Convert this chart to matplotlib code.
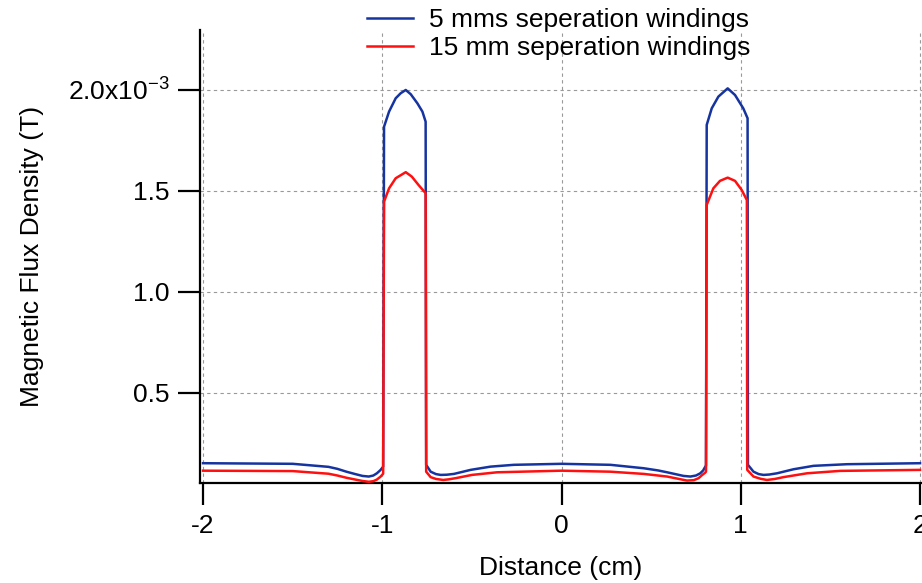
import matplotlib
matplotlib.use("Agg")
import matplotlib.pyplot as plt
from matplotlib.ticker import FixedLocator, FixedFormatter

plt.rcParams['font.family'] = ['Liberation Sans', 'DejaVu Sans']
plt.rcParams['mathtext.fontset'] = 'custom'
plt.rcParams['mathtext.rm'] = 'Liberation Sans'
plt.rcParams['mathtext.it'] = 'Liberation Sans'

# Position along the axis (cm)
x_5mm = [-2.0, -1.5, -1.3, -1.25, -1.2, -1.15, -1.11, -1.075, -1.05, -1.03, -1.01, -0.995,
         -0.99, -0.962, -0.925, -0.897, -0.869, -0.841, -0.804, -0.776, -0.758,
         -0.755, -0.730, -0.700, -0.674, -0.640, -0.600, -0.507, -0.396, -0.266, 0.0,
         0.273, 0.459, 0.540, 0.589, 0.640, 0.681, 0.719, 0.750, 0.774, 0.790, 0.802, 0.806,
         0.810, 0.838, 0.875, 0.927, 0.968, 1.014, 1.038, 1.040,
         1.071, 1.100, 1.127, 1.160, 1.202, 1.294, 1.406, 1.592, 2.0]
# Flux density, 5 mm winding separation (mT)
b_5mm = [0.152, 0.149, 0.134, 0.124, 0.110, 0.098, 0.089, 0.086, 0.091, 0.102, 0.118, 0.135,
         1.818, 1.893, 1.959, 1.984, 2.000, 1.979, 1.934, 1.893, 1.843,
         0.144, 0.110, 0.098, 0.094, 0.095, 0.099, 0.119, 0.135, 0.144, 0.149,
         0.144, 0.127, 0.116, 0.107, 0.097, 0.089, 0.086, 0.091, 0.102, 0.116, 0.135, 0.140,
         1.827, 1.909, 1.967, 2.008, 1.975, 1.909, 1.860, 0.144,
         0.110, 0.098, 0.094, 0.096, 0.102, 0.122, 0.139, 0.147, 0.152]

x_15mm = [-2.0, -1.5, -1.3, -1.25, -1.2, -1.15, -1.11, -1.075, -1.05, -1.03, -1.01, -0.995,
          -0.99, -0.962, -0.925, -0.869, -0.835, -0.798, -0.758,
          -0.755, -0.730, -0.700, -0.660, -0.630, -0.590, -0.500, -0.360, 0.0,
          0.273, 0.459, 0.589, 0.650, 0.700, 0.738, 0.765, 0.785, 0.800, 0.806,
          0.810, 0.847, 0.884, 0.927, 0.968, 1.005, 1.034, 1.036,
          1.071, 1.110, 1.146, 1.190, 1.238, 1.369, 1.554, 2.0]
# Flux density, 15 mm winding separation (mT)
b_15mm = [0.115, 0.113, 0.100, 0.091, 0.080, 0.071, 0.064, 0.060, 0.063, 0.071, 0.085, 0.100,
          1.447, 1.513, 1.563, 1.593, 1.571, 1.530, 1.489,
          0.110, 0.083, 0.074, 0.069, 0.072, 0.078, 0.094, 0.107, 0.115,
          0.110, 0.099, 0.086, 0.075, 0.066, 0.068, 0.078, 0.094, 0.104, 0.110,
          1.431, 1.513, 1.550, 1.566, 1.550, 1.505, 1.455, 0.119,
          0.086, 0.075, 0.069, 0.074, 0.083, 0.102, 0.114, 0.119]

scale = 1e-3
y_ticks = [0.5e-3, 1.0e-3, 1.5e-3, 2.0e-3]
y_tick_labels = ["0.5", "1.0", "1.5", r"2.0x10$^{\mathregular{-3}}$"]
x_ticks = [-2, -1, 0, 1, 2]
x_tick_labels = ["-2", "-1", "0", "1", "2"]

fs = 19

fig = plt.figure(figsize=(9.22, 5.83), dpi=100)
ax = fig.add_axes([200 / 922, 100 / 583, 722 / 922, 453 / 583])

blue = "#1634a0"
red = "#ff1010"
ax.plot(x_5mm, [v * scale for v in b_5mm], color=blue, lw=1.8,
        label="5 mms seperation windings", zorder=3)
ax.plot(x_15mm, [v * scale for v in b_15mm], color=red, lw=1.8,
        label="15 mm seperation windings", zorder=3)

ax.set_xlim(-2.0167, 2.011)
ax.set_ylim(0.054e-3, 2.297e-3)

ax.xaxis.set_major_locator(FixedLocator(x_ticks))
ax.xaxis.set_major_formatter(FixedFormatter(x_tick_labels))
ax.yaxis.set_major_locator(FixedLocator(y_ticks))
ax.yaxis.set_major_formatter(FixedFormatter(y_tick_labels))

ax.grid(True, which="major", color="#999999", linestyle=(0, (3, 3)), lw=0.8)
ax.set_axisbelow(True)

for side in ("top", "right"):
    ax.spines[side].set_visible(False)
for side in ("left", "bottom"):
    ax.spines[side].set_linewidth(1.6)
    ax.spines[side].set_color("black")

ax.tick_params(axis="both", direction="out", length=15.5, width=1.6,
               labelsize=fs, pad=6.5, colors="black")

ax.set_xlabel("Distance (cm)", fontsize=fs, labelpad=13)
ax.set_ylabel("Magnetic Flux Density (T)", fontsize=fs, labelpad=17)

fig.legend(loc="upper left", bbox_to_anchor=(367 / 922, 1 - 8 / 583), frameon=False,
           fontsize=fs, handlelength=1.75, handletextpad=0.6,
           labelspacing=0.16, borderpad=0.0, borderaxespad=0.0)

fig.savefig("out.png", dpi=100)
